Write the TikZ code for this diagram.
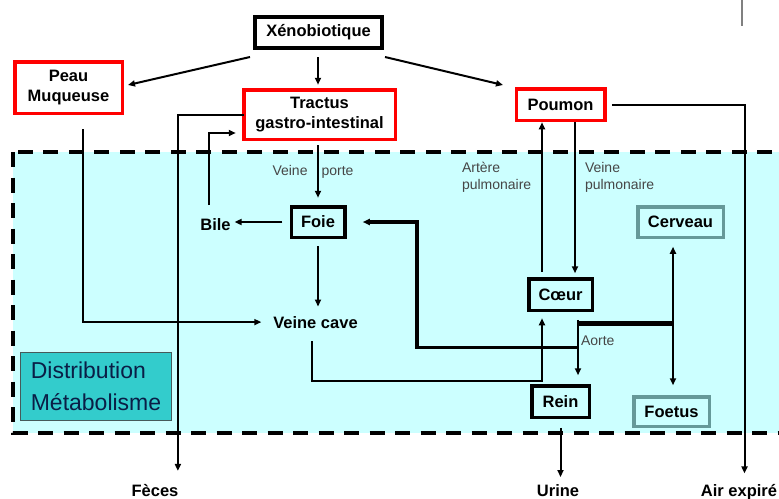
\documentclass[tikz,border=0pt]{standalone}
\usepackage{fontspec}
\setmainfont{Liberation Sans}
\usepackage{tikz}
\usetikzlibrary{arrows.meta, positioning}
\definecolor{organred}{RGB}{255,0,0}
\definecolor{bloodcyan}{RGB}{204,255,255}
\definecolor{distteal}{RGB}{51,204,204}
\definecolor{distborder}{RGB}{70,90,90}
\definecolor{distnavy}{RGB}{10,30,70}
\definecolor{fetalteal}{RGB}{102,153,153}
\definecolor{labelgray}{RGB}{70,70,70}

\begin{document}
\begin{tikzpicture}[x=1pt, y=-1pt, line width=2pt,
  >={Triangle[length=7pt,width=6pt]},
  organ/.style={draw, line width=3.5pt, inner sep=0pt, outer sep=0pt, align=center,
    font=\bfseries\fontsize{16.5}{20}\selectfont},
  redorgan/.style={organ, draw=organred},
  blackorgan/.style={organ, draw=black},
  tealorgan/.style={organ, draw=fetalteal},
  outlabel/.style={inner sep=1pt, outer sep=0pt, font=\bfseries\fontsize{16.5}{20}\selectfont},
  vessel/.style={inner sep=0pt, outer sep=0pt, text=labelgray, align=left,
    font=\fontsize{14}{17}\selectfont},
  distbox/.style={draw=distborder, line width=1.2pt, fill=distteal, text=distnavy,
    minimum width=151pt, minimum height=68pt, inner sep=0pt, align=left,
    font=\fontsize{23}{32}\selectfont},
  hepatic/.style={line width=3.5pt},
  aorta/.style={line width=4.5pt}]
  \useasboundingbox (0,0) rectangle (779,498);
  \clip (0,0) rectangle (779,498);

  \draw[line width=4.5pt, dash pattern=on 15pt off 10.5pt, fill=bloodcyan] (13,152) rectangle (800,433);
  \draw[gray, line width=1.5pt] (742,0) -- (742,26);

  \node[blackorgan, line width=4pt, minimum width=127pt, minimum height=31pt] (xeno) at (318.5,32.5) {Xénobiotique};
  \node[redorgan, minimum width=107.5pt, minimum height=51.5pt] (peau) at (68.5,87.5) {Peau\\Muqueuse};
  \node[redorgan, minimum width=151.5pt, minimum height=49.5pt] (tractus) at (319.5,114.5) {Tractus\\gastro-intestinal};
  \node[redorgan, minimum width=88.5pt, minimum height=31.5pt] (poumon) at (560.5,104.5) {Poumon};
  \node[blackorgan, minimum width=53.5pt, minimum height=30.5pt] (foie) at (318,222) {Foie};
  \node[blackorgan, minimum width=63.5pt, minimum height=31.5pt] (coeur) at (560.5,294.5) {Cœur};
  \node[blackorgan, minimum width=57.5pt, minimum height=31.5pt] (rein) at (560.5,401.5) {Rein};
  \node[tealorgan, minimum width=85.5pt, minimum height=30.5pt] (cerveau) at (680.5,222) {Cerveau};
  \node[tealorgan, minimum width=75.5pt, minimum height=29.5pt] (foetus) at (671.5,411.5) {Foetus};

  \node[outlabel, anchor=base] (bile) at (215.5,230) {Bile};
  \node[outlabel, anchor=base] (vcave) at (315.5,328) {Veine cave};
  \node[outlabel, anchor=base] (feces) at (155,496) {Fèces};
  \node[outlabel, anchor=base] (urine) at (558,496) {Urine};
  \node[outlabel, anchor=base] (air) at (739,496) {Air expiré};
  \node[distbox] (distrib) at (96,386.5) {Distribution\\Métabolisme};

  \node[vessel, anchor=base] (vporte) at (313,175) {Veine\hspace{14pt}porte};
  \node[vessel, anchor=north west] (arterep) at (462,162) {Artère\\pulmonaire};
  \node[vessel, anchor=north west] (veinep) at (585,162) {Veine\\pulmonaire};
  \node[vessel, anchor=base west] (aorte) at (581,345) {Aorte};

  \draw[->] ([xshift=-5pt,yshift=-9pt]xeno.south west) -- ([xshift=5.75pt,yshift=2.5pt]peau.east);
  \draw[->] ([yshift=-9pt]xeno.south -| foie) -- ([yshift=5pt]tractus.north -| foie);
  \draw[->] ([xshift=3pt,yshift=-9pt]xeno.south east) -- ([xshift=-13.25pt,yshift=3.75pt]poumon.north west);

  \draw[->, shorten >=12pt] (tractus.west) -| ([xshift=-1.5pt]feces.north east);
  \draw[->] ([xshift=-6.5pt,yshift=12pt]bile.north) |- ([xshift=-8pt,yshift=-18.5pt]tractus.west);
  \draw[->] ([yshift=-6pt]tractus.south -| foie) -- ([yshift=9pt]foie.north);
  \draw[->] ([xshift=-9pt]foie.west) -- ([xshift=3pt]bile.east |- foie);
  \draw[->] ([yshift=-9pt]foie.south) -- ([yshift=8.5pt]vcave.north -| foie);
  \draw[->] ([xshift=14.5pt,yshift=-16pt]peau.south) |- ([xshift=-11pt]vcave.west);
  \draw[->] ([xshift=-4pt,yshift=-12pt]vcave.south) -- ++(0,40) -| ([xshift=-18.5pt,yshift=-8pt]coeur.south);

  \draw[->] ([xshift=-18.5pt,yshift=7pt]coeur.north) -- ([xshift=-18.5pt,yshift=-2pt]coeur.north |- poumon.south);
  \draw[->] ([xshift=14.5pt,yshift=-2pt]poumon.south) -- ([xshift=14.5pt,yshift=5.5pt]poumon.south |- coeur.north);
  \draw[->, shorten >=9.5pt] ([xshift=7pt]poumon.east) -| ([xshift=5.5pt]air.north);

  \coordinate (ao) at ([xshift=17.5pt,yshift=-9.5pt]coeur.south);
  \coordinate (br) at (673,323.5);
  \coordinate (hep) at (417,347.5);
  \draw[aorta] ([yshift=-3.75pt]ao) -- (br);
  \draw[->] (ao) -- ([yshift=10.5pt]rein.north -| ao);
  \draw[->] (br) -- ([yshift=-9.5pt]cerveau.south -| br);
  \draw[->] (br) -- ([yshift=11.5pt]foetus.north -| br);
  \draw[hepatic, ->] (ao |- hep) -- (hep) |- ([xshift=18pt]foie.east);
  \draw[->, shorten >=6pt] ([yshift=-10.5pt]rein.south) -- (rein.south |- urine.north);
\end{tikzpicture}
\end{document}
